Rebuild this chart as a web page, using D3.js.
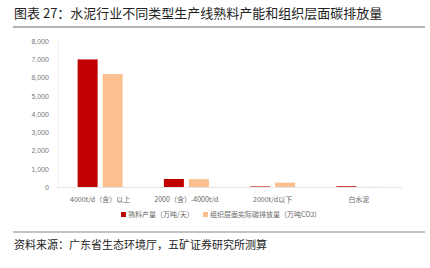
<!DOCTYPE html>
<html>
<head>
<meta charset="utf-8">
<script src="https://cdn.jsdelivr.net/npm/d3@7"></script>
<style>
  body { margin: 0; background: #fff; font-family: "Noto Sans CJK SC", "Noto Sans", sans-serif; }
</style>
</head>
<body>
<div id="chart"></div>
<script>
  // data
  var categories = ["4000t/d（含）以上", "2000（含）-4000t/d", "2000t/d以下", "白水泥"];
  var clinker = [6990, 440, 30, 40];
  var carbon = [6190, 430, 240, 10];
  var seriesNames = ["熟料产量（万吨/天）", "组织层面实际碳排放量（万吨CO2)"];
  var yTicks = [0, 1000, 2000, 3000, 4000, 5000, 6000, 7000, 8000];

  var W = 430, H = 268;
  var colors = ["#C00000", "#FAC090"];

  var svg = d3.select("#chart").append("svg")
    .attr("width", W).attr("height", H);

  // title + rules
  svg.append("text")
    .attr("x", 14).attr("y", 18)
    .attr("font-size", 13).attr("fill", "#222")
    .text("图表 27：水泥行业不同类型生产线熟料产能和组织层面碳排放量");
  svg.append("line").attr("x1", 13).attr("x2", 425).attr("y1", 27).attr("y2", 27)
    .attr("stroke", "#666").attr("stroke-width", 1);
  svg.append("line").attr("x1", 13).attr("x2", 425).attr("y1", 232).attr("y2", 232)
    .attr("stroke", "#888").attr("stroke-width", 1);
  svg.append("text")
    .attr("x", 14).attr("y", 249)
    .attr("font-size", 11).attr("fill", "#222")
    .text("资料来源：广东省生态环境厅，五矿证券研究所测算");

  var x0 = d3.scaleBand().domain(categories).range([57, 402]);
  var y = d3.scaleLinear().domain([0, 8000]).range([187, 41]);

  // y axis
  var yAxis = svg.append("g").attr("transform", "translate(58,0)")
    .call(d3.axisLeft(y).tickValues(yTicks).tickFormat(d3.format(",")).tickSize(0).tickPadding(9));
  yAxis.select(".domain").attr("stroke", "#eee");
  yAxis.selectAll("text").attr("font-size", 7).attr("fill", "#777")
    .attr("font-family", "Liberation Sans, Arial, sans-serif");

  // x baseline
  svg.append("line").attr("x1", 56).attr("x2", 402).attr("y1", y(0) + 0.5).attr("y2", y(0) + 0.5)
    .attr("stroke", "#e6e6e6");

  var barW = 20, gap = 5;
  var groups = svg.selectAll("g.cat").data(categories).enter().append("g")
    .attr("class", "cat")
    .attr("transform", function(d) { return "translate(" + (x0(d) + x0.bandwidth() / 2) + ",0)"; });

  [clinker, carbon].forEach(function(vals, s) {
    groups.append("rect")
      .attr("x", s === 0 ? -barW - gap / 2 : gap / 2)
      .attr("width", barW)
      .attr("y", function(d, i) { return y(vals[i]); })
      .attr("height", function(d, i) { return y(0) - y(vals[i]); })
      .attr("fill", colors[s]);
  });

  // x labels
  groups.append("text")
    .attr("y", 201.5).attr("text-anchor", "middle")
    .attr("font-size", 7).attr("fill", "#666")
    .text(function(d) { return d; });

  // legend
  var legendX = [121, 203];
  seriesNames.forEach(function(name, i) {
    var g = svg.append("g").attr("transform", "translate(" + legendX[i] + ",217)");
    g.append("rect").attr("x", 0).attr("y", -5).attr("width", 5).attr("height", 5).attr("fill", colors[i]);
    g.append("text").attr("x", 7).attr("y", 0).attr("font-size", 7).attr("fill", "#666").text(name);
  });
</script>
</body>
</html>
